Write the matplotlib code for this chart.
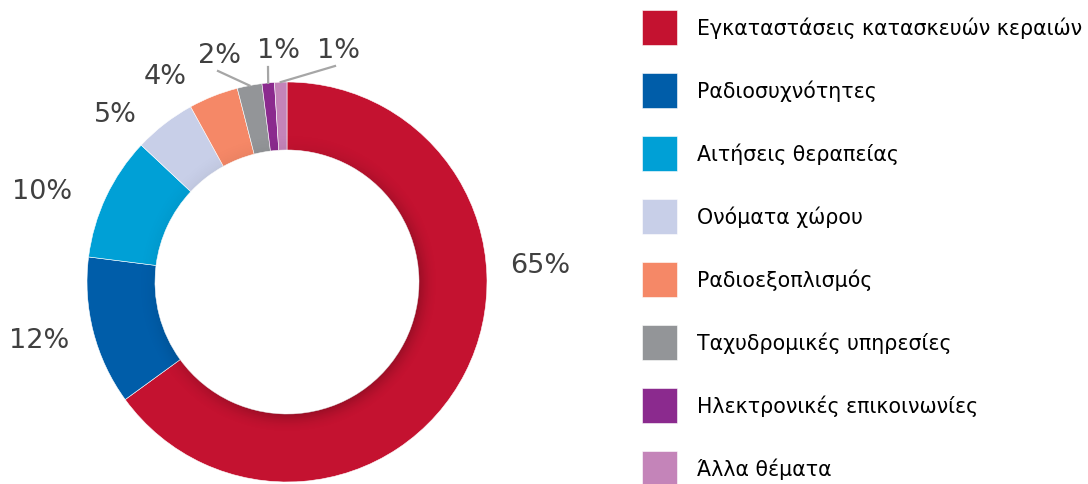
import numpy as np
import matplotlib.pyplot as plt
from matplotlib.patches import Wedge

categories = ['Εγκαταστάσεις κατασκευών κεραιών', 'Ραδιοσυχνότητες', 'Αιτήσεις θεραπείας',
              'Ονόματα χώρου', 'Ραδιοεξοπλισμός', 'Ταχυδρομικές υπηρεσίες',
              'Ηλεκτρονικές επικοινωνίες', 'Άλλα θέματα']
values = [65, 12, 10, 5, 4, 2, 1, 1]
labels = ['65%', '12%', '10%', '5%', '4%', '2%', '1%', '1%']
colors = ['#C41230', '#005DA9', '#00A0D6', '#C8CFE8', '#F58867', '#939598', '#8B2A8E', '#C484B9']

# label placement (data units, radius = 1)
label_pos = [(1.265, 0.085), (-1.24, -0.29), (-1.225, 0.455), (-0.86, 0.84),
             (-0.61, 1.03), (-0.34, 1.135), (-0.04, 1.16), (0.255, 1.16)]
# leader line starts for the small slices
leaders = {5: (-0.345, 1.055), 6: (-0.095, 1.075), 7: (0.24, 1.08)}

fig = plt.figure(figsize=(10.88, 4.85), dpi=100)
ax = fig.add_axes([87 / 1088, 2 / 485, 400 / 1088, 400 / 485])

inner = 0.66
wedges, _ = ax.pie(values, colors=colors, startangle=90, counterclock=False, radius=1,
                   wedgeprops=dict(width=1 - inner, edgecolor='white', linewidth=0.4))

# subtle shading toward the inner edge
n = 600
xx, yy = np.meshgrid(np.linspace(-1, 1, n), np.linspace(-1, 1, n))
rr = np.hypot(xx, yy)
side = 0.6 + 0.4 * np.clip((xx - yy) / np.maximum(rr, 1e-6), -1, 1)
shade = np.clip(1 - (rr - inner) / 0.1, 0, 1) ** 2 * 0.22 * side
rgba = np.zeros((n, n, 4))
rgba[..., 3] = shade
im = ax.imshow(rgba, extent=(-1, 1, -1, 1), origin='lower', zorder=3)
ring = Wedge((0, 0), 1, 0, 360, width=1 - inner, transform=ax.transData)
im.set_clip_path(ring)
ax.set_xlim(-1, 1)
ax.set_ylim(-1, 1)
ax.set_aspect('equal')
ax.axis('off')

for i, (w, lab) in enumerate(zip(wedges, labels)):
    x, y = label_pos[i]
    ax.text(x, y, lab, ha='center', va='center', fontsize=19.5, color='#404040',
            family='DejaVu Sans')
    if i in leaders:
        mid = np.deg2rad((w.theta1 + w.theta2) / 2)
        sx, sy = leaders[i]
        ax.plot([sx, np.cos(mid) * 1.0], [sy, np.sin(mid) * 1.0], color='#A6A6A6',
                lw=1.6, clip_on=False, zorder=4)

fig.legend(wedges, categories, loc='upper left', bbox_to_anchor=(642 / 1088, 1 - 11 / 485),
           frameon=False, handlelength=1.72, handleheight=2.23,
           labelspacing=1.37, handletextpad=0.96, borderpad=0, borderaxespad=0,
           prop={'family': 'DejaVu Sans', 'size': 14.8})

fig.savefig('out.png', dpi=100)
